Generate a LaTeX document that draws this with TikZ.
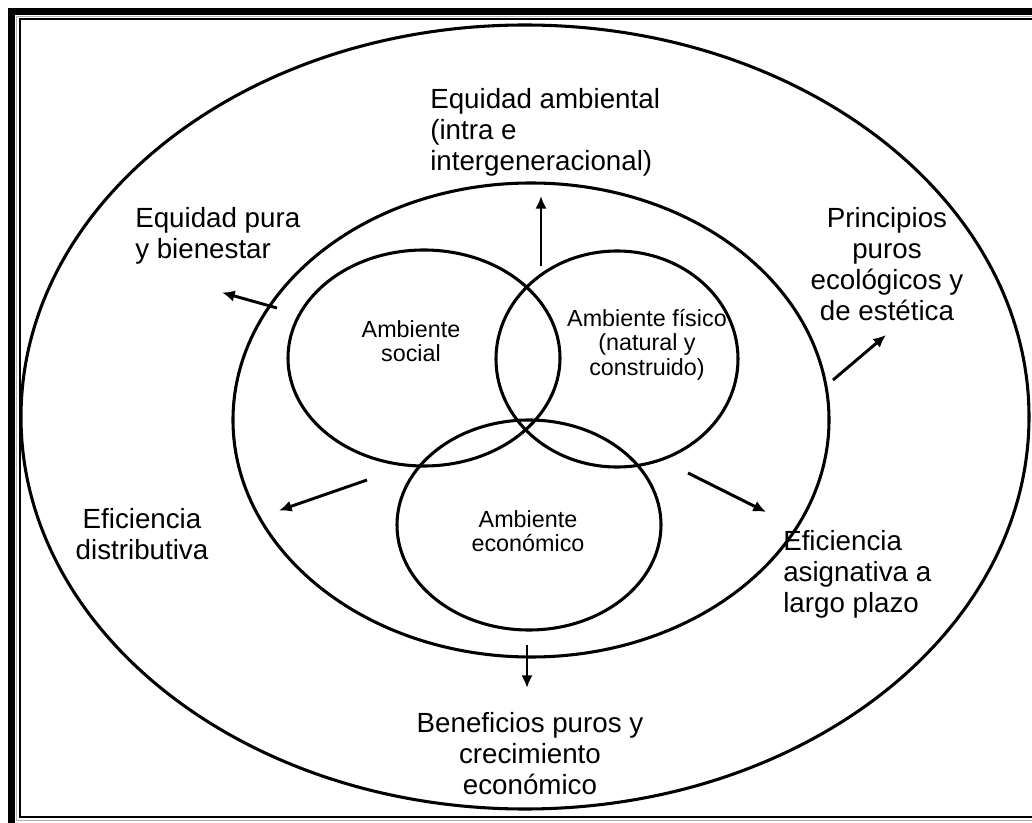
\documentclass[tikz,border=0pt]{standalone}
\usepackage{fontspec}
\setmainfont{Liberation Sans}
\usetikzlibrary{arrows.meta,shapes.geometric}
\begin{document}
\begin{tikzpicture}[x=0.75pt,y=-0.75pt,
  ring/.style={draw=black,line width=2.3pt,shape=ellipse,inner sep=0pt,outer sep=0pt},
  flow/.style={line width=2.2pt,-{Latex[length=9.5pt,width=8.5pt]}},
  outlabel/.style={font=\fontsize{20.8}{23.3}\selectfont,inner sep=0pt},
  inlabel/.style={font=\fontsize{17.5}{18.4}\selectfont,inner sep=0pt,align=center}]
\clip (0,0) rectangle (1032,823);
\fill[white] (0,0) rectangle (1032,823);
% double page border: heavy outer rule, grey hairline, thin inner rule
\draw[black,line width=5.25pt] (11.5,12) rectangle (1060,840);
\draw[black!30,line width=0.75pt] (16.5,16.8) rectangle (1055,820.5);
\draw[black,line width=1.5pt] (19.5,19.2) rectangle (1050,816.8);

% nested environments
\node[ring,minimum width=756pt,minimum height=588pt] (outer) at (525,417) {};
\node[ring,minimum width=447pt,minimum height=355.5pt] (inner) at (531,420) {};
\node[ring,minimum width=204pt,minimum height=162pt] (social) at (424,358) {};
\node[ring,minimum width=181.5pt,minimum height=162pt] (fisico) at (617,359) {};
\node[ring,minimum width=198pt,minimum height=157.5pt] (econ) at (529,525) {};

% labels inside the Venn circles
\node[inlabel,anchor=north] (lsocial) at (411,320) {Ambiente\\social};
\node[inlabel,anchor=north] (lfisico) at (647,309) {Ambiente físico\\(natural y\\construido)};
\node[inlabel,anchor=north] (lecon) at (528,510) {Ambiente\\económico};

% outer labels
\node[outlabel,align=left,anchor=north west] (tequidad) at (430,88) {Equidad ambiental\\(intra e\\intergeneracional)};
\node[outlabel,align=left,anchor=north west] (tpura) at (135,207) {Equidad pura\\y bienestar};
\node[outlabel,align=center,anchor=north] (tprin) at (887,207) {Principios\\puros\\ecológicos y\\de estética};
\node[outlabel,align=center,anchor=north] (tdist) at (142,508) {Eficiencia\\distributiva};
\node[outlabel,align=left,anchor=north west] (tasig) at (783,530) {Eficiencia\\asignativa a\\largo plazo};
\node[outlabel,align=center,anchor=north] (tbenef) at (530,712) {Beneficios puros y\\crecimiento\\económico};

% arrow end points
\coordinate (a1s) at (541,266);  \coordinate (a1e) at (541,196);
\coordinate (a2s) at (277,308);  \coordinate (a2e) at (222,292.5);
\coordinate (a3s) at (833,380);  \coordinate (a3e) at (886,335);
\coordinate (a4s) at (367,480);  \coordinate (a4e) at (279,510.5);
\coordinate (a5s) at (688,473);  \coordinate (a5e) at (766,512);
\coordinate (a6s) at (527,645);  \coordinate (a6e) at (527,688);

\draw[flow] (a1s) -- (a1e);
\draw[flow] (a2s) -- (a2e);
\draw[flow] (a3s) -- (a3e);
\draw[flow] (a4s) -- (a4e);
\draw[flow] (a5s) -- (a5e);
\draw[flow] (a6s) -- (a6e);
\end{tikzpicture}
\end{document}
